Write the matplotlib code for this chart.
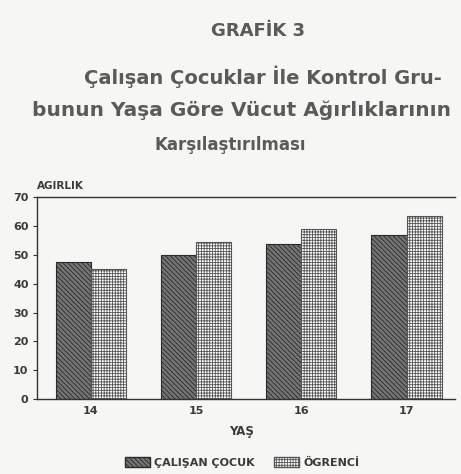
import matplotlib
matplotlib.use("Agg")
import matplotlib.pyplot as plt
from matplotlib.patches import Patch

plt.rcParams["hatch.linewidth"] = 0.6

ages = ["14", "15", "16", "17"]
calisan = [47.5, 50.0, 53.8, 56.8]
ogrenci = [45.0, 54.3, 58.9, 63.5]
series_names = ["ÇALIŞAN ÇOCUK", "ÖGRENCİ"]
y_ticks = [0, 10, 20, 30, 40, 50, 60, 70]

bg = "#f6f6f4"
ink = "#3a3a3a"
title_ink = "#5a5a5a"
dark_face = "#747474"
dark_hatch = "\\\\\\\\\\\\\\"
light_hatch = "++++++"

fig = plt.figure(figsize=(4.61, 4.74), dpi=100, facecolor=bg)
ax = fig.add_axes([0.080, 0.158, 0.907, 0.426], facecolor=bg)

x = list(range(len(ages)))
w = 0.333
ax.bar([i - w / 2 for i in x], calisan, width=w, facecolor=dark_face,
       edgecolor="#2a2a2a", hatch=dark_hatch, linewidth=0.8)
ax.bar([i + w / 2 for i in x], ogrenci, width=w, facecolor="#ffffff",
       edgecolor="#555555", hatch=light_hatch, linewidth=0.8)

ax.set_xlim(-0.51, 3.46)
ax.set_ylim(0, 70)
ax.set_yticks(y_ticks)
ax.set_xticks(x)
ax.set_xticklabels(ages)
ax.tick_params(axis="x", length=0, labelsize=8, labelcolor=ink, pad=5)
ax.tick_params(axis="y", length=3, width=0.8, direction="out", color="#333333",
               labelsize=8, labelcolor=ink, pad=3)
for lab in ax.get_xticklabels() + ax.get_yticklabels():
    lab.set_fontweight("bold")
ax.spines["right"].set_visible(False)
for s in ["left", "bottom", "top"]:
    ax.spines[s].set_color("#333333")
    ax.spines[s].set_linewidth(1.0)

fig.text(0.080, 0.608, "AGIRLIK", fontsize=7.5, fontweight="bold", color=ink, ha="left", va="center")
fig.text(0.525, 0.089, "YAŞ", fontsize=8.5, fontweight="bold", color=ink, ha="center", va="center")

fig.text(0.56, 0.935, "GRAFİK 3", fontsize=13, fontweight="bold", color=title_ink, ha="center", va="center")
fig.text(0.57, 0.838, "Çalışan Çocuklar İle Kontrol Gru-", fontsize=14, fontweight="bold", color=title_ink, ha="center", va="center")
fig.text(0.523, 0.768, "bunun Yaşa Göre Vücut Ağırlıklarının", fontsize=14.5, fontweight="bold", color=title_ink, ha="center", va="center")
fig.text(0.50, 0.694, "Karşılaştırılması", fontsize=12, fontweight="bold", color=title_ink, ha="center", va="center")

handles = [
    Patch(facecolor=dark_face, edgecolor="#2a2a2a", hatch=dark_hatch, label=series_names[0]),
    Patch(facecolor="#ffffff", edgecolor="#555555", hatch=light_hatch, label=series_names[1]),
]
leg = fig.legend(handles=handles, loc="center", bbox_to_anchor=(0.525, 0.025), ncol=2,
                 frameon=False, fontsize=8, handlelength=2.3, handleheight=1.1,
                 columnspacing=1.7, handletextpad=0.35)
for t in leg.get_texts():
    t.set_fontweight("bold")
    t.set_color(ink)

fig.savefig("out.png", dpi=100, facecolor=bg)
